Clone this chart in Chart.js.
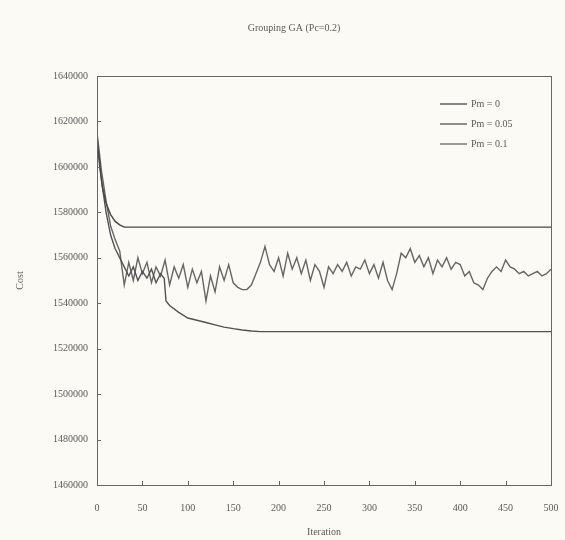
<!DOCTYPE html>
<html>
<head>
<meta charset="utf-8">
<script src="https://cdn.jsdelivr.net/npm/chart.js@4/dist/chart.umd.min.js"></script>
<style>
  html, body { margin: 0; padding: 0; background: #fbfaf5; }
  #wrap { width: 565px; height: 540px; }
</style>
</head>
<body>
<div id="wrap"><canvas id="c" width="565" height="540"></canvas></div>
<script>
// data
const TITLE = 'Grouping GA (Pc=0.2)';

const iterPm0 = [0, 3, 6, 10, 15, 20, 25, 30, 500];
const costPm0 = [1612000, 1600000, 1591000, 1584000, 1579000, 1576000, 1574500, 1573500, 1573500];

const iterPm005 = [0, 5, 10, 15, 20, 25, 30, 35, 40, 45, 50, 55, 60, 65, 70, 74, 76, 80, 90, 100,
  110, 120, 130, 140, 150, 160, 170, 180, 190, 500];
const costPm005 = [1614000, 1594000, 1580000, 1570000, 1564000, 1560000, 1556000, 1552000, 1556000, 1550000,
  1554000, 1551000, 1555000, 1549000, 1553000, 1551000, 1541000, 1539000, 1536000, 1533500,
  1532500, 1531500, 1530500, 1529500, 1528800, 1528200, 1527800, 1527500, 1527500, 1527500];

const iterPm01 = [0, 5, 10, 15, 20, 25, 30, 35, 40, 45, 50, 55, 60, 65, 70, 75, 80, 85, 90, 95,
  100, 105, 110, 115, 120, 125, 130, 135, 140, 145, 150, 155, 160, 165, 170, 175, 180, 185, 190, 195,
  200, 205, 210, 215, 220, 225, 230, 235, 240, 245, 250, 255, 260, 265, 270, 275, 280, 285, 290, 295,
  300, 305, 310, 315, 320, 325, 330, 335, 340, 345, 350, 355, 360, 365, 370, 375, 380, 385, 390, 395,
  400, 405, 410, 415, 420, 425, 430, 435, 440, 445, 450, 455, 460, 465, 470, 475, 480, 485, 490, 495, 500];
const costPm01 = [1615000, 1598000, 1585000, 1574000, 1568000, 1563000, 1548000, 1558000, 1550000, 1560000,
  1553000, 1558000, 1549000, 1556000, 1552000, 1559000, 1548000, 1556000, 1551000, 1557000,
  1547000, 1555000, 1549000, 1554000, 1541000, 1552000, 1545000, 1556000, 1550000, 1557000,
  1549000, 1547000, 1546000, 1546000, 1548000, 1553000, 1558000, 1565000, 1557000, 1554000,
  1560000, 1552000, 1562000, 1555000, 1560000, 1553000, 1559000, 1550000, 1557000, 1554000,
  1547000, 1556000, 1553000, 1557000, 1554000, 1558000, 1552000, 1556000, 1555000, 1559000,
  1553000, 1557000, 1551000, 1558000, 1550000, 1546000, 1553000, 1562000, 1560000, 1564000,
  1558000, 1561000, 1556000, 1560000, 1553000, 1559000, 1556000, 1560000, 1555000, 1558000,
  1557000, 1552000, 1554000, 1549000, 1548000, 1546000, 1551000, 1554000, 1556000, 1554000,
  1559000, 1556000, 1555000, 1553000, 1554000, 1552000, 1553000, 1554000, 1552000, 1553000, 1555000];

const seriesLabels = ['Pm = 0', 'Pm = 0.05', 'Pm = 0.1'];
const seriesColors = ['#474747', '#525252', '#666666'];

const INK = '#5a5a5a';
const SERIF = '"Liberation Serif", "DejaVu Serif", serif';

const toPts = (xs, ys) => xs.map((x, i) => ({ x: x, y: ys[i] }));

// frame, inward ticks, title, legend
const decor = {
  id: 'decor',
  afterDraw(chart) {
    const { ctx, chartArea: a, scales } = chart;
    ctx.save();
    ctx.strokeStyle = '#666';
    ctx.lineWidth = 1;
    ctx.strokeRect(a.left + 0.5, a.top + 0.5, a.right - a.left, a.bottom - a.top);

    ctx.beginPath();
    scales.y.ticks.forEach(t => {
      const py = Math.round(scales.y.getPixelForValue(t.value)) + 0.5;
      ctx.moveTo(a.left, py); ctx.lineTo(a.left + 4, py);
    });
    scales.x.ticks.forEach(t => {
      const px = Math.round(scales.x.getPixelForValue(t.value)) + 0.5;
      ctx.moveTo(px, a.bottom); ctx.lineTo(px, a.bottom - 4);
    });
    ctx.stroke();

    ctx.fillStyle = INK;
    ctx.font = '10px ' + SERIF;
    ctx.textAlign = 'center';
    ctx.textBaseline = 'middle';
    ctx.fillText(TITLE, 294, 28);

    ctx.textAlign = 'left';
    chart.data.datasets.forEach((ds, i) => {
      const y = 104 + i * 20;
      ctx.strokeStyle = ds.borderColor;
      ctx.lineWidth = 1.3;
      ctx.beginPath();
      ctx.moveTo(440, y); ctx.lineTo(467, y);
      ctx.stroke();
      ctx.fillText(ds.label, 471, y);
    });
    ctx.restore();
  }
};

new Chart(document.getElementById('c'), {
  type: 'line',
  data: {
    datasets: [
      { label: seriesLabels[0], data: toPts(iterPm0, costPm0) },
      { label: seriesLabels[1], data: toPts(iterPm005, costPm005) },
      { label: seriesLabels[2], data: toPts(iterPm01, costPm01) }
    ].map((d, i) => Object.assign(d, {
      borderColor: seriesColors[i],
      borderWidth: 1.4,
      pointRadius: 0,
      tension: 0,
      fill: false
    }))
  },
  options: {
    responsive: false,
    animation: false,
    layout: { padding: { top: 76, right: 14, left: 0, bottom: 0 } },
    plugins: { legend: { display: false }, tooltip: { enabled: false } },
    scales: {
      x: {
        type: 'linear', min: 0, max: 500,
        afterFit: s => { s.height = 55; s.paddingLeft = 0; s.paddingRight = 0; },
        grid: { display: false, drawTicks: false },
        border: { color: '#666' },
        ticks: { stepSize: 50, padding: 17, color: INK, font: { family: SERIF, size: 10 }, maxRotation: 0 },
        title: { display: true, text: 'Iteration', color: INK, font: { family: SERIF, size: 10 }, padding: { top: 0, bottom: 2 } }
      },
      y: {
        min: 1460000, max: 1640000,
        afterFit: s => { s.width = 97; },
        grid: { display: false, drawTicks: false },
        border: { color: '#666' },
        ticks: { stepSize: 20000, padding: 9, color: INK, font: { family: SERIF, size: 10 }, callback: v => String(v) },
        title: { display: true, text: 'Cost', color: INK, font: { family: SERIF, size: 10 }, padding: { top: 14, bottom: 0 } }
      }
    }
  },
  plugins: [decor]
});
</script>
</body>
</html>
